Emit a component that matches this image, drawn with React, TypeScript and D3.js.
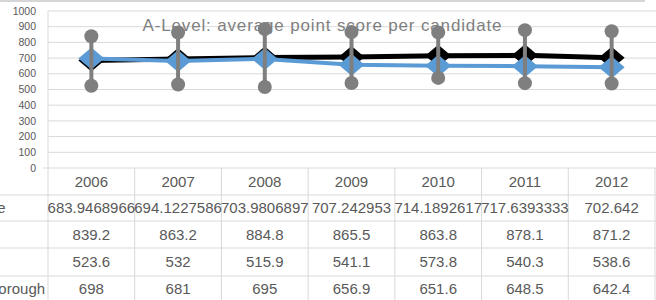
import * as d3 from "d3";

const years = ["2006", "2007", "2008", "2009", "2010", "2011", "2012"];
const averageVals = [683.9468966, 694.1227586, 703.9806897, 707.242953, 714.1892617, 717.6393333, 702.642];
const averageText = ["683.9468966", "694.1227586", "703.9806897", "707.242953", "714.1892617", "717.6393333", "702.642"];
const maxVals = [839.2, 863.2, 884.8, 865.5, 863.8, 878.1, 871.2];
const minVals = [523.6, 532, 515.9, 541.1, 573.8, 540.3, 538.6];
const boroughVals = [698, 681, 695, 656.9, 651.6, 648.5, 642.4];
const rowLabels = ["Average", "Max", "Min", "Local borough"];
const yTicks = [0, 100, 200, 300, 400, 500, 600, 700, 800, 900, 1000];

const W = 656;
const H = 300;
const FONT = "'Liberation Sans', Arial, sans-serif";
const GRID = "#d9d9d9";
const TXT = "#595959";

export default function App() {
  const x = d3.scaleBand<string>().domain(years).range([48, 655]);
  const y = d3.scaleLinear().domain([0, 1000]).range([168, 11]);
  const cx = (d: string) => (x(d) ?? 0) + x.bandwidth() / 2;

  const lineGen = d3
    .line<number>()
    .x((_, i) => cx(years[i]))
    .y((d) => y(d));

  const diamond = (px: number, py: number, hw: number, hh: number) =>
    `M${px - hw},${py}L${px},${py - hh}L${px + hw},${py}L${px},${py + hh}Z`;

  // table rows: header then four data rows
  const rowEdges = [168, 195, 221, 248, 276, 302];
  const rows = [
    averageText,
    maxVals.map(String),
    minVals.map(String),
    boroughVals.map(String),
  ];

  return (
    <svg width={W} height={H} style={{ position: "absolute", left: 0, top: 0 }} fontFamily={FONT}>
      <rect width={W} height={H} fill="white" />
      <line x1={0} x2={645} y1={1} y2={1} stroke="#c8c8c8" strokeWidth={1.5} />

      {/* gridlines */}
      {yTicks.map((t) => (
        <line key={t} x1={t === 0 ? 43 : 48} x2={W} y1={y(t)} y2={y(t)} stroke={GRID} strokeWidth={1} />
      ))}
      {yTicks.map((t) => (
        <text key={"l" + t} x={36} y={y(t)} dy="0.35em" textAnchor="end" fontSize={10.5} fill={TXT}>
          {t}
        </text>
      ))}

      {/* table */}
      <line x1={48} x2={48} y1={11} y2={H} stroke={GRID} />
      {years.map((d) => (
        <line key={"v" + d} x1={(x(d) ?? 0) + x.bandwidth()} x2={(x(d) ?? 0) + x.bandwidth()} y1={168} y2={H} stroke={GRID} />
      ))}
      {rowEdges.slice(1, 5).map((e) => (
        <line key={"h" + e} x1={0} x2={W} y1={e} y2={e} stroke={GRID} />
      ))}
      {years.map((d) => (
        <text key={"y" + d} x={cx(d)} y={(rowEdges[0] + rowEdges[1]) / 2} dy="0.35em" textAnchor="middle" fontSize={15} fill={TXT}>
          {d}
        </text>
      ))}
      {rows.map((r, ri) => (
        <g key={"r" + ri}>
          <text x={-50} y={(rowEdges[ri + 1] + rowEdges[ri + 2]) / 2} dy="0.35em" fontSize={15} fill={TXT}>
            {rowLabels[ri]}
          </text>
          {r.map((v, i) => (
            <text key={i} x={cx(years[i])} y={(rowEdges[ri + 1] + rowEdges[ri + 2]) / 2} dy="0.35em" textAnchor="middle" fontSize={15} fill={TXT}>
              {v}
            </text>
          ))}
        </g>
      ))}

      {/* title */}
      <text x={322} y={31} textAnchor="middle" fontSize={17} fill="#808080" textLength={359} lengthAdjust="spacing">
        A-Level: average point score per candidate
      </text>

      {/* average series */}
      <path d={lineGen(averageVals) ?? ""} fill="none" stroke="black" strokeWidth={5} strokeLinejoin="round" />
      {averageVals.map((v, i) => (
        <path key={"a" + i} d={diamond(cx(years[i]), y(v), 13, 11)} fill="black" />
      ))}

      {/* borough series */}
      <path d={lineGen(boroughVals) ?? ""} fill="none" stroke="#5b9bd5" strokeWidth={4} strokeLinejoin="round" />
      {boroughVals.map((v, i) => (
        <path key={"b" + i} d={diamond(cx(years[i]), y(v), 13, 11)} fill="#5b9bd5" />
      ))}

      {/* high-low lines with max/min markers */}
      {years.map((d, i) => (
        <g key={"hl" + d}>
          <line x1={cx(d)} x2={cx(d)} y1={y(maxVals[i])} y2={y(minVals[i])} stroke="#7f7f7f" strokeWidth={4} />
          <circle cx={cx(d)} cy={y(maxVals[i])} r={7} fill="#7f7f7f" />
          <circle cx={cx(d)} cy={y(minVals[i])} r={7} fill="#7f7f7f" />
        </g>
      ))}
    </svg>
  );
}
